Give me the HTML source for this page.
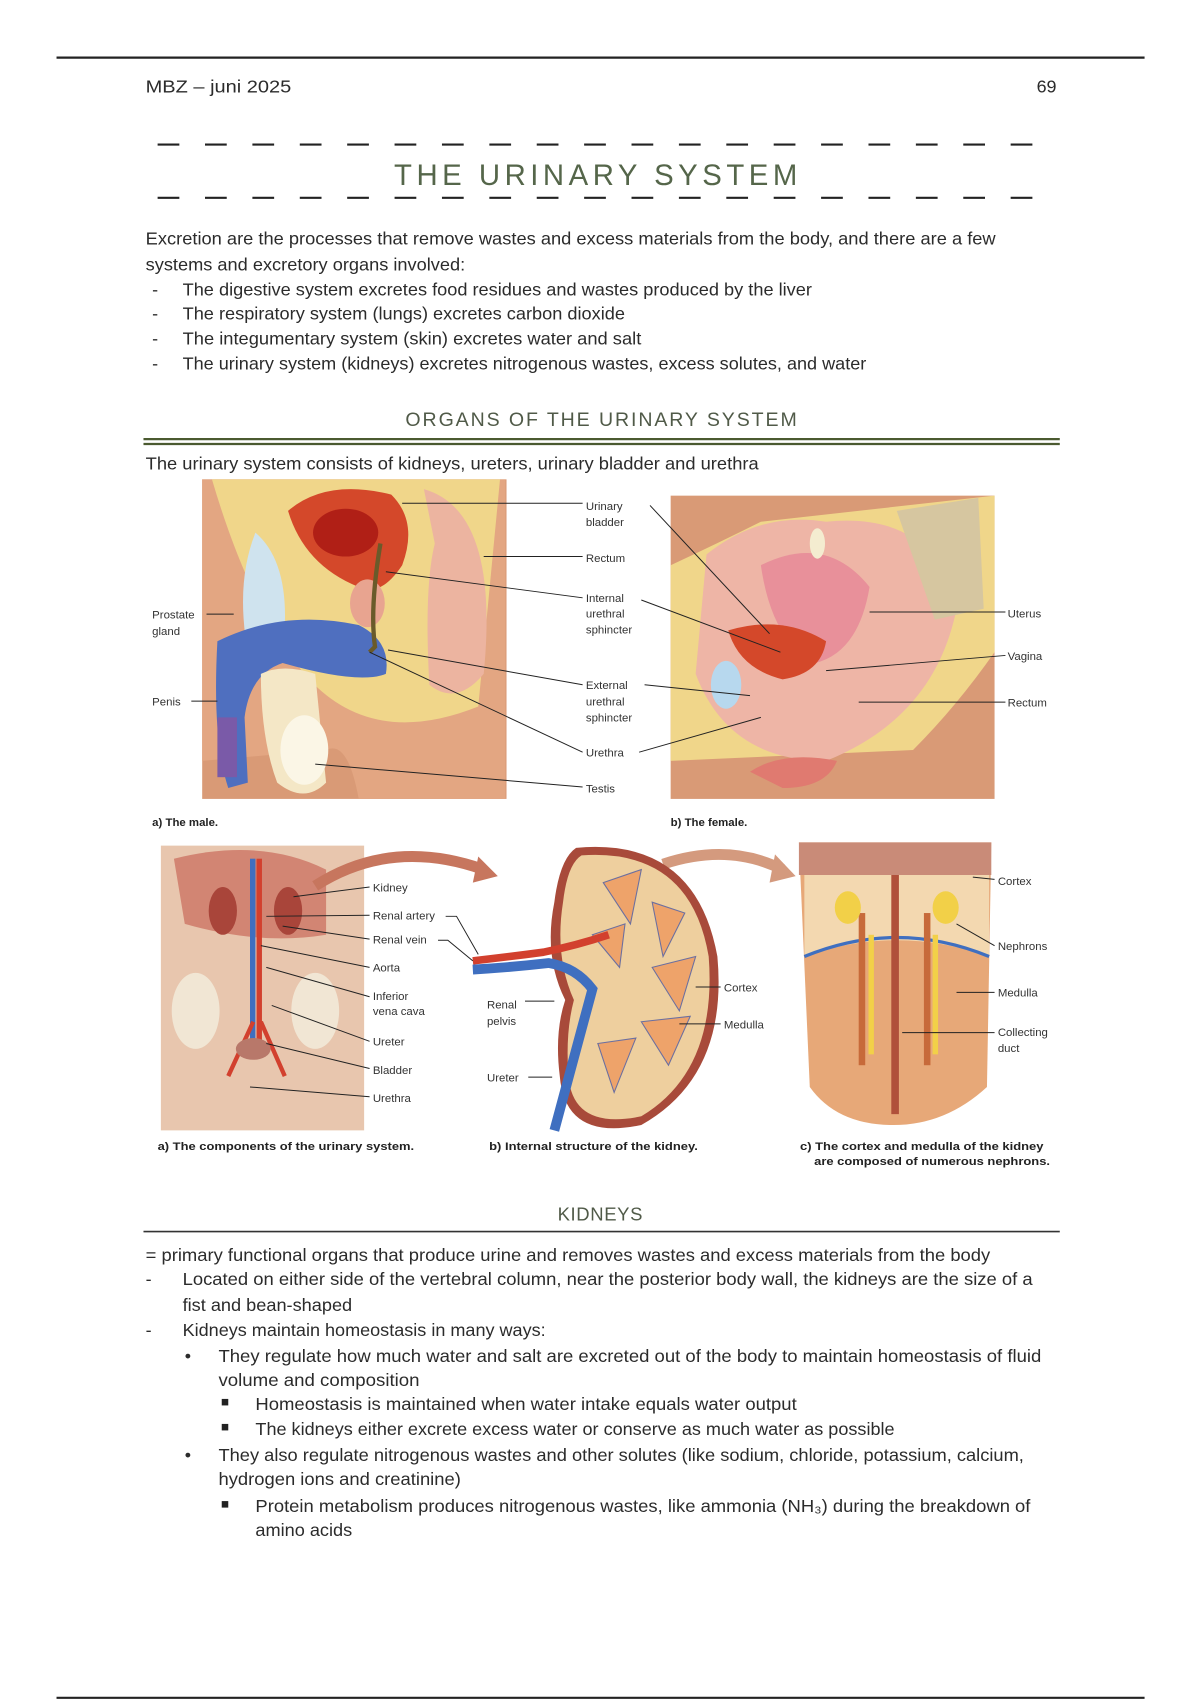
<!DOCTYPE html>
<html><head><meta charset="utf-8"><style>
html,body{margin:0;padding:0;background:#fff;}
svg{display:block;}
text{font-family:"Liberation Sans",sans-serif;}
.b{font-size:16.5px;fill:#2b2b2b;}
.l{font-size:10.5px;fill:#333;}
.c{font-size:10.5px;fill:#222;font-weight:bold;}
</style></head><body>
<svg width="1200" height="1700" viewBox="0 0 1104 1564" preserveAspectRatio="none" xmlns="http://www.w3.org/2000/svg">
<rect width="1104" height="1564" fill="#fff"/>
<line x1="52" y1="53" x2="1053" y2="53" stroke="#222" stroke-width="2"/>
<text class="b" x="134" y="85" textLength="134" lengthAdjust="spacingAndGlyphs">MBZ – juni 2025</text>
<text class="b" x="972" y="85" text-anchor="end">69</text>
<line x1="145" y1="133" x2="972" y2="133" stroke="#222" stroke-width="2" stroke-dasharray="20 23.6"/>
<line x1="145" y1="182" x2="972" y2="182" stroke="#222" stroke-width="2" stroke-dasharray="20 23.6"/>
<text x="550" y="170" text-anchor="middle" font-size="27" fill="#55664a" textLength="375" letter-spacing="4">THE URINARY SYSTEM</text>

<g lengthAdjust="spacingAndGlyphs">
<text class="b" x="134" y="225" textLength="782" lengthAdjust="spacingAndGlyphs">Excretion are the processes that remove wastes and excess materials from the body, and there are a few</text>
<text class="b" x="134" y="249" textLength="294" lengthAdjust="spacingAndGlyphs">systems and excretory organs involved:</text>
<text class="b" x="140" y="272">-</text><text class="b" x="168" y="272" textLength="579" lengthAdjust="spacingAndGlyphs">The digestive system excretes food residues and wastes produced by the liver</text>
<text class="b" x="140" y="294">-</text><text class="b" x="168" y="294" textLength="407" lengthAdjust="spacingAndGlyphs">The respiratory system (lungs) excretes carbon dioxide</text>
<text class="b" x="140" y="317">-</text><text class="b" x="168" y="317" textLength="422" lengthAdjust="spacingAndGlyphs">The integumentary system (skin) excretes water and salt</text>
<text class="b" x="140" y="340">-</text><text class="b" x="168" y="340" textLength="629" lengthAdjust="spacingAndGlyphs">The urinary system (kidneys) excretes nitrogenous wastes, excess solutes, and water</text>
</g>

<text x="553" y="392" text-anchor="middle" font-size="18" fill="#505a48" textLength="360">ORGANS OF THE URINARY SYSTEM</text>
<line x1="132" y1="404" x2="975" y2="404" stroke="#4b5a30" stroke-width="2"/>
<line x1="132" y1="408.5" x2="975" y2="408.5" stroke="#4b5a30" stroke-width="2"/>
<text class="b" x="134" y="432" textLength="564" lengthAdjust="spacingAndGlyphs">The urinary system consists of kidneys, ureters, urinary bladder and urethra</text>

<!-- Male panel -->
<g>
<rect x="186" y="441" width="280" height="294" fill="#d99a76"/>
<path d="M186 441 H465 V735 H330 Q320 680 300 690 L186 700Z" fill="#e3a682"/>
<path d="M195 441 Q230 560 280 620 Q340 690 440 650 L460 441Z" fill="#f0d68a"/>
<path d="M235 490 Q270 520 260 600 L230 610 Q215 540 235 490Z" fill="#cfe3ee"/>
<path d="M265 470 Q300 440 360 455 Q385 480 370 520 Q350 550 330 540 Q280 520 265 470Z" fill="#d4482a"/>
<ellipse cx="318" cy="490" rx="30" ry="22" fill="#b01f16"/>
<path d="M390 450 Q460 470 445 620 Q420 650 395 630 Q390 540 400 500Z" fill="#ecb4a0"/>
<ellipse cx="338" cy="555" rx="16" ry="22" fill="#e8a490"/>
<path d="M200 590 Q260 560 330 575 Q360 590 355 620 Q330 630 260 610 Q230 620 225 660 L228 720 L210 725 Q195 680 200 590Z" fill="#4f6fbf"/>
<path d="M240 620 Q260 610 290 620 L300 720 Q280 740 255 720 Q240 680 240 620Z" fill="#f4e7c6"/>
<ellipse cx="280" cy="690" rx="22" ry="32" fill="#fbf6e6"/>
<path d="M350 500 Q340 560 345 595 L340 600" stroke="#6a5a2a" stroke-width="4" fill="none"/>
<rect x="200" y="660" width="18" height="55" fill="#7a5aa8"/>
</g>
<!-- Female panel -->
<g>
<rect x="617" y="456" width="298" height="279" fill="#d99a76"/>
<path d="M617 520 Q660 500 700 480 L915 456 V600 Q880 650 840 690 L617 700Z" fill="#f0d68a"/>
<path d="M650 510 Q700 470 760 480 Q860 470 880 560 Q860 660 760 700 Q670 700 640 620Z" fill="#eeb5a6"/>
<path d="M700 520 Q760 490 800 540 Q790 600 750 610 Q710 590 700 520Z" fill="#e8909a"/>
<path d="M670 580 Q720 565 760 590 Q755 620 720 625 Q680 615 670 580Z" fill="#d4482a"/>
<ellipse cx="668" cy="630" rx="14" ry="22" fill="#b7d8ee"/>
<path d="M690 710 Q720 690 770 700 Q760 725 720 725Z" fill="#e07a70"/>
<path d="M825 470 L900 458 L905 560 L860 570 Z" fill="#d6c6a0"/>
<ellipse cx="752" cy="500" rx="7" ry="14" fill="#f4ecd0"/>
</g>
<g stroke="#222" stroke-width="0.9" fill="none">
<line x1="370" y1="463" x2="536" y2="463"/><line x1="598" y1="465" x2="708" y2="583"/>
<line x1="445" y1="512" x2="536" y2="512"/>
<line x1="355" y1="526" x2="536" y2="550"/><line x1="590" y1="552" x2="718" y2="600"/>
<line x1="357" y1="598" x2="536" y2="630"/><line x1="593" y1="630" x2="690" y2="640"/>
<line x1="340" y1="600" x2="536" y2="692"/><line x1="588" y1="692" x2="700" y2="660"/>
<line x1="290" y1="703" x2="536" y2="724"/>
<line x1="190" y1="565" x2="215" y2="565"/><line x1="176" y1="645" x2="200" y2="645"/>
<line x1="800" y1="563" x2="925" y2="563"/><line x1="760" y1="617" x2="925" y2="603"/>
<line x1="790" y1="646" x2="925" y2="646"/>
</g>
<g class="l">
<text class="l" x="539" y="469">Urinary</text><text class="l" x="539" y="484">bladder</text>
<text class="l" x="539" y="517">Rectum</text>
<text class="l" x="539" y="554">Internal</text><text class="l" x="539" y="568">urethral</text><text class="l" x="539" y="583">sphincter</text>
<text class="l" x="539" y="634">External</text><text class="l" x="539" y="649">urethral</text><text class="l" x="539" y="664">sphincter</text>
<text class="l" x="539" y="696">Urethra</text>
<text class="l" x="539" y="729">Testis</text>
<text class="l" x="140" y="569">Prostate</text><text class="l" x="140" y="584">gland</text>
<text class="l" x="140" y="649">Penis</text>
<text class="l" x="927" y="568">Uterus</text>
<text class="l" x="927" y="607">Vagina</text>
<text class="l" x="927" y="650">Rectum</text>
</g>
<text class="c" x="140" y="760">a)  The male.</text>
<text class="c" x="617" y="760">b)  The female.</text>

<!-- lower figure a -->
<g>
<path d="M148 778 H335 V1040 H148Z" fill="#e8c6ae"/>
<path d="M160 790 Q240 770 300 800 L300 860 Q240 870 170 850Z" fill="#c96a5a" opacity="0.7"/>
<ellipse cx="205" cy="838" rx="13" ry="22" fill="#a9453a"/>
<ellipse cx="265" cy="838" rx="13" ry="22" fill="#a9453a"/>
<rect x="230" y="790" width="5" height="170" fill="#3f6fc0"/>
<rect x="236" y="790" width="5" height="170" fill="#d2402e"/>
<path d="M233 940 L210 990 M240 940 L262 990" stroke="#d2402e" stroke-width="4"/>
<ellipse cx="180" cy="930" rx="22" ry="35" fill="#f1e6d4"/>
<ellipse cx="290" cy="930" rx="22" ry="35" fill="#f1e6d4"/>
<ellipse cx="233" cy="965" rx="16" ry="10" fill="#b8786a"/>
</g>
<path d="M290 815 Q360 770 445 800" stroke="#c7765e" stroke-width="10" fill="none"/>
<path d="M440 788 L458 806 L435 812Z" fill="#c7765e"/>
<path d="M610 795 Q670 775 720 800" stroke="#d49a7e" stroke-width="10" fill="none"/>
<path d="M713 786 L732 806 L708 812Z" fill="#d49a7e"/>
<!-- kidney -->
<g>
<path d="M530 780 Q640 770 660 880 Q670 990 590 1035 Q520 1050 515 990 Q510 950 520 920 Q500 880 510 830 Q515 790 530 780Z" fill="#a84a3a"/>
<path d="M535 787 Q635 780 652 880 Q660 985 590 1027 Q527 1040 523 990 Q520 950 528 920 Q510 880 518 830 Q522 795 535 787Z" fill="#eecf9e"/>
<g fill="#eea36a" stroke="#6b6fa0" stroke-width="1">
<path d="M555 812 L590 800 L580 850Z"/><path d="M600 830 L630 840 L610 880Z"/><path d="M600 890 L640 880 L625 930Z"/><path d="M590 940 L635 935 L615 980Z"/><path d="M550 960 L585 955 L565 1005Z"/><path d="M545 860 L575 850 L570 890Z"/>
</g>
<path d="M435 884 Q470 880 500 876 Q530 870 560 860" stroke="#d2402e" stroke-width="7" fill="none"/>
<path d="M435 892 Q470 890 505 886 Q530 890 545 910 L510 1040" stroke="#3f6fc0" stroke-width="9" fill="none"/>
</g>
<!-- panel c -->
<g>
<path d="M735 775 H912 L908 1000 Q870 1035 822 1035 Q770 1035 745 1000Z" fill="#e7a878"/>
<rect x="735" y="775" width="177" height="30" fill="#c98b78"/>
<path d="M740 805 H910 V880 Q825 850 740 880Z" fill="#f3d8b0"/>
<path d="M740 880 Q825 845 910 880" stroke="#3f6fc0" stroke-width="3" fill="none"/>
<rect x="820" y="805" width="7" height="220" fill="#b0503a"/>
<rect x="790" y="840" width="6" height="140" fill="#c76a3a"/>
<rect x="850" y="840" width="6" height="140" fill="#c76a3a"/>
<ellipse cx="780" cy="835" rx="12" ry="15" fill="#f2d048"/>
<ellipse cx="870" cy="835" rx="12" ry="15" fill="#f2d048"/>
<rect x="799" y="860" width="5" height="110" fill="#f2d048"/>
<rect x="858" y="860" width="5" height="110" fill="#f2d048"/>
</g>
<g stroke="#222" stroke-width="0.9" fill="none">
<line x1="270" y1="825" x2="340" y2="816"/><line x1="245" y1="843" x2="340" y2="842"/>
<line x1="260" y1="852" x2="340" y2="864"/><line x1="240" y1="870" x2="340" y2="890"/>
<line x1="245" y1="890" x2="340" y2="917"/><line x1="250" y1="925" x2="340" y2="958"/>
<line x1="245" y1="960" x2="340" y2="983"/><line x1="230" y1="1000" x2="340" y2="1009"/>
<path d="M410 843 H420 L440 878"/><path d="M403 865 H412 L435 884"/>
<line x1="483" y1="921" x2="510" y2="921"/><line x1="486" y1="991" x2="508" y2="991"/>
<line x1="640" y1="908" x2="663" y2="908"/><line x1="625" y1="942" x2="663" y2="942"/>
<line x1="895" y1="807" x2="915" y2="809"/><line x1="880" y1="850" x2="915" y2="870"/>
<line x1="880" y1="913" x2="915" y2="913"/><line x1="830" y1="950" x2="915" y2="950"/>
</g>
<g>
<text class="l" x="343" y="820">Kidney</text>
<text class="l" x="343" y="846">Renal artery</text>
<text class="l" x="343" y="868">Renal vein</text>
<text class="l" x="343" y="894">Aorta</text>
<text class="l" x="343" y="920">Inferior</text><text class="l" x="343" y="934">vena cava</text>
<text class="l" x="343" y="962">Ureter</text>
<text class="l" x="343" y="988">Bladder</text>
<text class="l" x="343" y="1014">Urethra</text>
<text class="l" x="448" y="928">Renal</text><text class="l" x="448" y="943">pelvis</text>
<text class="l" x="448" y="995">Ureter</text>
<text class="l" x="666" y="912">Cortex</text>
<text class="l" x="666" y="946">Medulla</text>
<text class="l" x="918" y="814">Cortex</text>
<text class="l" x="918" y="874">Nephrons</text>
<text class="l" x="918" y="917">Medulla</text>
<text class="l" x="918" y="953">Collecting</text><text class="l" x="918" y="968">duct</text>
</g>
<text class="c" x="145" y="1058" textLength="236" lengthAdjust="spacingAndGlyphs">a) The components of the urinary system.</text>
<text class="c" x="450" y="1058" textLength="192" lengthAdjust="spacingAndGlyphs">b) Internal structure of the kidney.</text>
<text class="c" x="736" y="1058" textLength="224" lengthAdjust="spacingAndGlyphs">c) The cortex and medulla of the kidney</text>
<text class="c" x="749" y="1072" textLength="217" lengthAdjust="spacingAndGlyphs">are composed of numerous nephrons.</text>

<text x="553" y="1123" text-anchor="middle" font-size="17" fill="#505a48" textLength="80" letter-spacing="2">KIDNEYS</text>
<line x1="132" y1="1133" x2="975" y2="1133" stroke="#333" stroke-width="1.5"/>

<text class="b" x="134" y="1160" textLength="777" lengthAdjust="spacingAndGlyphs">= primary functional organs that produce urine and removes wastes and excess materials from the body</text>
<text class="b" x="134" y="1182">-</text><text class="b" x="168" y="1182" textLength="782" lengthAdjust="spacingAndGlyphs">Located on either side of the vertebral column, near the posterior body wall, the kidneys are the size of a</text>
<text class="b" x="168" y="1206" textLength="156" lengthAdjust="spacingAndGlyphs">fist and bean-shaped</text>
<text class="b" x="134" y="1229">-</text><text class="b" x="168" y="1229" textLength="334" lengthAdjust="spacingAndGlyphs">Kidneys maintain homeostasis in many ways:</text>
<text class="b" x="170" y="1253">•</text><text class="b" x="201" y="1253" textLength="757" lengthAdjust="spacingAndGlyphs">They regulate how much water and salt are excreted out of the body to maintain homeostasis of fluid</text>
<text class="b" x="201" y="1275" textLength="185" lengthAdjust="spacingAndGlyphs">volume and composition</text>
<rect x="204" y="1287" width="6" height="6" fill="#222"/><text class="b" x="235" y="1297" textLength="498" lengthAdjust="spacingAndGlyphs">Homeostasis is maintained when water intake equals water output</text>
<rect x="204" y="1310" width="6" height="6" fill="#222"/><text class="b" x="235" y="1320" textLength="588" lengthAdjust="spacingAndGlyphs">The kidneys either excrete excess water or conserve as much water as possible</text>
<text class="b" x="170" y="1344">•</text><text class="b" x="201" y="1344" textLength="741" lengthAdjust="spacingAndGlyphs">They also regulate nitrogenous wastes and other solutes (like sodium, chloride, potassium, calcium,</text>
<text class="b" x="201" y="1366" textLength="223" lengthAdjust="spacingAndGlyphs">hydrogen ions and creatinine)</text>
<rect x="204" y="1381" width="6" height="6" fill="#222"/><text class="b" x="235" y="1391" textLength="713" lengthAdjust="spacingAndGlyphs">Protein metabolism produces nitrogenous wastes, like ammonia (NH₃) during the breakdown of</text>
<text class="b" x="235" y="1413" textLength="89" lengthAdjust="spacingAndGlyphs">amino acids</text>

<line x1="52" y1="1562" x2="1053" y2="1562" stroke="#222" stroke-width="2"/>
</svg>
</body></html>
